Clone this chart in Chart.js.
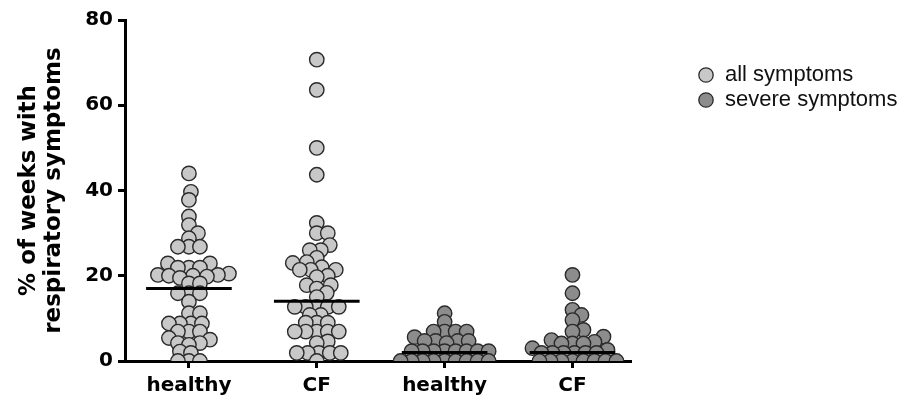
<!DOCTYPE html>
<html>
<head>
<meta charset="utf-8">
<script src="https://cdn.jsdelivr.net/npm/chart.js@4.4.1/dist/chart.umd.min.js"></script>
<style>
  html, body { margin: 0; padding: 0; background: #ffffff; }
  #wrap { width: 907px; height: 414px; position: relative; }
</style>
</head>
<body>
<div id="wrap"><canvas id="c" width="907" height="414"></canvas></div>
<script>
// ---------- DATA ----------
const categories = ['healthy', 'CF', 'healthy', 'CF'];
const seriesNames = ['all symptoms', 'severe symptoms'];
const yTicks = [0, 20, 40, 60, 80];

const healthyAll = [44, 39.7, 37.8, 33.9, 31.9, 30, 28.8, 26.8, 26.8, 26.8, 22.9, 22.9, 21.9, 21.9, 21.9,
  20.5, 20.2, 20.2, 20, 20, 19.8, 19.5, 18.2, 18.2, 15.9, 15.9, 15.9, 13.9, 11.2, 11.2, 8.8, 8.8, 8.8, 8.8,
  6.9, 6.9, 6.9, 5.4, 5, 4.2, 4.2, 3.8, 2.2, 1.9, 0, 0, 0];
const cfAll = [70.7, 63.6, 50, 43.7, 32.4, 30, 30, 27.2, 26, 26, 24.2, 23.2, 23, 22, 21.4, 21.4, 21.4, 20,
  19.7, 17.8, 17.8, 17, 16, 15, 12.7, 12.7, 12.7, 12.7, 12.7, 10.8, 10.8, 9, 9, 9, 6.9, 6.9, 6.9, 6.9, 6.9,
  4.6, 4.2, 1.9, 1.9, 1.9, 1.9, 1.9, 0];
const healthySevere = [11.2, 9.2, 6.9, 6.9, 6.9, 6.9, 5.6, 4.7, 4.7, 4.7, 4.7, 4.2, 2.3, 2.3, 2.3, 2.3,
  2.3, 2.3, 2.3, 2.3, 0, 0, 0, 0, 0, 0, 0, 0, 0];
const cfSevere = [20.2, 15.9, 12, 10.8, 9.6, 7.3, 6.9, 5.7, 4.9, 4.5, 4.1, 4.1, 4.1, 3, 2.6, 1.9, 1.9,
  1.9, 1.9, 1.9, 1.9, 0, 0, 0, 0, 0, 0, 0, 0];
const medians = [17, 14, 2, 2];

// ---------- STYLE ----------
const fills = ['#c8c8c8', '#8c8c8c'];
const edge = '#2a2a2a';
const boldFont = '"DejaVu Sans", sans-serif';
const legendFamily = '"Liberation Sans", Arial, sans-serif';

// beeswarm layout (pixel-space approximation, converted to category units)
const PX_Y = 341 / 80;     // px per y unit
const PX_X = 127.8;        // px per category
function swarm(values, minDist, yWeight) {
  const idx = values.map((v, i) => i).sort((a, b) => values[a] - values[b]);
  const placed = [];
  const off = new Array(values.length).fill(0);
  for (const i of idx) {
    const y = values[i] * PX_Y;
    let chosen = 0;
    for (let k = 0; k < 400; k++) {
      const c = (k % 2 ? 1 : -1) * Math.ceil(k / 2);
      if (placed.every(p => Math.hypot(p.x - c, (p.y - y) * yWeight) >= minDist)) { chosen = c; break; }
    }
    placed.push({ x: chosen, y });
    off[i] = chosen / PX_X;
  }
  return off;
}
const groups = [
  { values: healthyAll, cat: 0, series: 0 },
  { values: cfAll, cat: 1, series: 0 },
  { values: healthySevere, cat: 2, series: 1 },
  { values: cfSevere, cat: 3, series: 1 }
];
const seriesData = [[], []];
groups.forEach(g => {
  const off = swarm(g.values, 11, 1.35);
  g.values.forEach((v, i) => seriesData[g.series].push({ x: g.cat + 1 + off[i], y: v }));
});

const HALF = 0.335;
const medianSets = medians.map((m, i) => ({
  label: 'median ' + categories[i],
  data: [{ x: i + 1 - HALF, y: m }, { x: i + 1 + HALF, y: m }],
  showLine: true, borderColor: '#000', borderWidth: 3, pointRadius: 0, order: 0
}));

// legend: fixed width box, circle drawn at the right end of a wide icon
const LEGEND_W = 277;
const LEGEND_PAD = 3;
const boxW = 81;
function icon(color) {
  const cv = document.createElement('canvas');
  cv.width = boxW; cv.height = 18;
  const g = cv.getContext('2d');
  g.beginPath(); g.arc(boxW - 8, 9, 7.2, 0, Math.PI * 2);
  g.fillStyle = color; g.fill();
  g.lineWidth = 1.3; g.strokeStyle = edge; g.stroke();
  return cv;
}
const legendWidthPlugin = {
  id: 'legendWidth',
  beforeLayout(chart) {
    const lg = chart.legend;
    if (lg && !lg.__fixedWidth) {
      const orig = lg.fit.bind(lg);
      lg.fit = function () { orig(); this.width = LEGEND_W; };
      lg.__fixedWidth = true;
    }
  }
};

new Chart(document.getElementById('c'), {
  type: 'scatter',
  plugins: [legendWidthPlugin],
  data: {
    datasets: [
      { label: seriesNames[0], data: seriesData[0], pointRadius: 7.2, pointBackgroundColor: fills[0],
        pointBorderColor: edge, pointBorderWidth: 1.4, backgroundColor: fills[0], order: 1 },
      { label: seriesNames[1], data: seriesData[1], pointRadius: 7.2, pointBackgroundColor: fills[1],
        pointBorderColor: edge, pointBorderWidth: 1.4, backgroundColor: fills[1], order: 1 },
      ...medianSets
    ]
  },
  options: {
    responsive: false,
    animation: false,
    events: [],
    layout: { padding: { top: 20, left: 0, right: 0, bottom: 0 } },
    plugins: {
      tooltip: { enabled: false },
      legend: {
        position: 'right',
        align: 'start',
        title: { display: true, text: ' ', padding: { top: 26.6, bottom: 0 }, font: { size: 12 } },
        labels: {
          usePointStyle: true,
          pointStyleWidth: boxW,
          boxHeight: 15,
          padding: LEGEND_PAD,
          color: '#111',
          font: { family: legendFamily, size: 22 },
          generateLabels(chart) {
            return seriesNames.map((name, i) => ({
              text: name, fillStyle: fills[i], strokeStyle: edge, lineWidth: 1.3,
              pointStyle: icon(fills[i]), datasetIndex: i, hidden: false, fontColor: '#111'
            }));
          }
        }
      }
    },
    scales: {
      x: {
        type: 'linear', min: 0.5, max: 4.45,
        afterBuildTicks: s => { s.ticks = categories.map((c, i) => ({ value: i + 1 })); },
        afterFit: s => { s.height = 53; },
        ticks: {
          autoSkip: false, maxRotation: 0, color: '#000', padding: 6,
          font: { family: boldFont, weight: 'bold', size: 20 },
          callback: v => categories[Math.round(v) - 1] || ''
        },
        grid: { drawOnChartArea: false, drawTicks: true, tickLength: 7, color: '#000', lineWidth: 3 },
        border: { display: true, color: '#000', width: 3 }
      },
      y: {
        min: 0, max: 80,
        afterBuildTicks: s => { s.ticks = yTicks.map(v => ({ value: v })); },
        afterFit: s => { s.width = 125; },
        ticks: {
          color: '#000', padding: 5,
          font: { family: boldFont, weight: 'bold', size: 20 }
        },
        grid: { drawOnChartArea: false, drawTicks: true, tickLength: 7, color: '#000', lineWidth: 3 },
        border: { display: true, color: '#000', width: 3 },
        title: {
          display: true, text: ['% of weeks with', 'respiratory symptoms'], color: '#000',
          font: { family: boldFont, weight: 'bold', size: 23, lineHeight: 1.09 },
          padding: { top: 16, bottom: 0 }
        }
      }
    }
  }
});
</script>
</body>
</html>
